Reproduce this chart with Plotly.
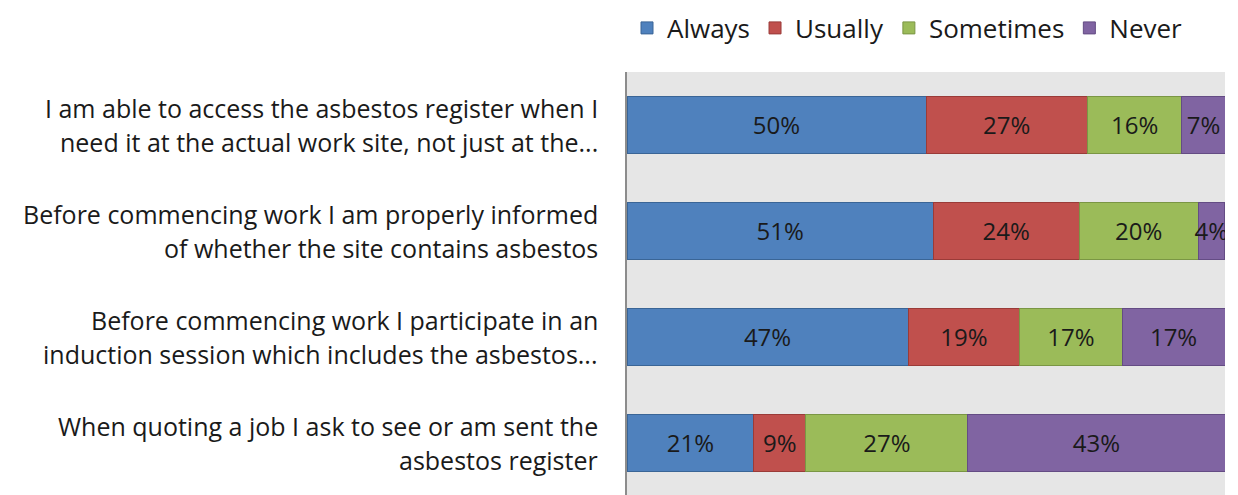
import plotly.graph_objects as go

questions = [
    "I am able to access the asbestos register when I need it at the actual work site, not just at the...",
    "Before commencing work I am properly informed of whether the site contains asbestos",
    "Before commencing work I participate in an induction session which includes the asbestos...",
    "When quoting a job I ask to see or am sent the asbestos register",
]
label_lines = [
    ("I am able to access the asbestos register when I", "need it at the actual work site, not just at the..."),
    ("Before commencing work I am properly informed", "of whether the site contains asbestos"),
    ("Before commencing work I participate in an", "induction session which includes the asbestos..."),
    ("When quoting a job I ask to see or am sent the", "asbestos register"),
]

series = ["Always", "Usually", "Sometimes", "Never"]
always = [50.0, 51.2, 47.0, 21.2]
usually = [27.0, 24.4, 18.7, 8.7]
sometimes = [15.8, 19.9, 17.1, 27.1]
never = [7.2, 4.4, 17.2, 43.0]

colors = ["#4F81BD", "#C0504D", "#9BBB59", "#8064A2"]
edges = ["#3A6596", "#9A3B38", "#7A9644", "#644C84"]
FONT = "Open Sans"

fig = go.Figure()
for name, vals, c, e in zip(series, [always, usually, sometimes, never], colors, edges):
    fig.add_trace(go.Bar(
        y=questions, x=vals, name=name, orientation="h",
        marker=dict(color=c, line=dict(color=e, width=1)),
        text=[f"{v:.0f}%" for v in vals],
        textposition="inside", insidetextanchor="middle", textangle=0,
        textfont=dict(family=FONT, size=24, color="#1a1a1a"),
        constraintext="none",
    ))

# question labels on the left, two lines each
for q, (l1, l2) in zip(questions, label_lines):
    for txt, shift in [(l1, 17), (l2, -17)]:
        fig.add_annotation(
            text=txt, xref="paper", x=0, y=q, yref="y",
            xanchor="right", yanchor="middle", xshift=-27, yshift=shift,
            showarrow=False, align="right",
            font=dict(family=FONT, size=25, color="#1a1a1a"),
        )

# page body has an 8px margin, so the figure is shifted up/left by 8px
fig.update_layout(
    width=1238, height=495,
    barmode="stack", bargap=0.47,
    plot_bgcolor="#E6E6E6", paper_bgcolor="white",
    margin=dict(l=619, r=21, t=64, b=6),
    showlegend=True,
    legend=dict(
        orientation="h", x=0.0, xanchor="left",
        yref="container", y=1 - 20 / 495, yanchor="middle",
        font=dict(family=FONT, size=26, color="#1a1a1a"),
        traceorder="normal", itemwidth=30,
    ),
    uniformtext=dict(minsize=24, mode="show"),
)
fig.update_xaxes(range=[0, 100], showgrid=False, showticklabels=False, zeroline=False, fixedrange=True)
fig.update_yaxes(
    type="category", range=[3.51, -0.5], showticklabels=False, showgrid=False,
    showline=True, linecolor="#8c8c8c", linewidth=2, zeroline=False,
)

fig.write_html("out.html")
